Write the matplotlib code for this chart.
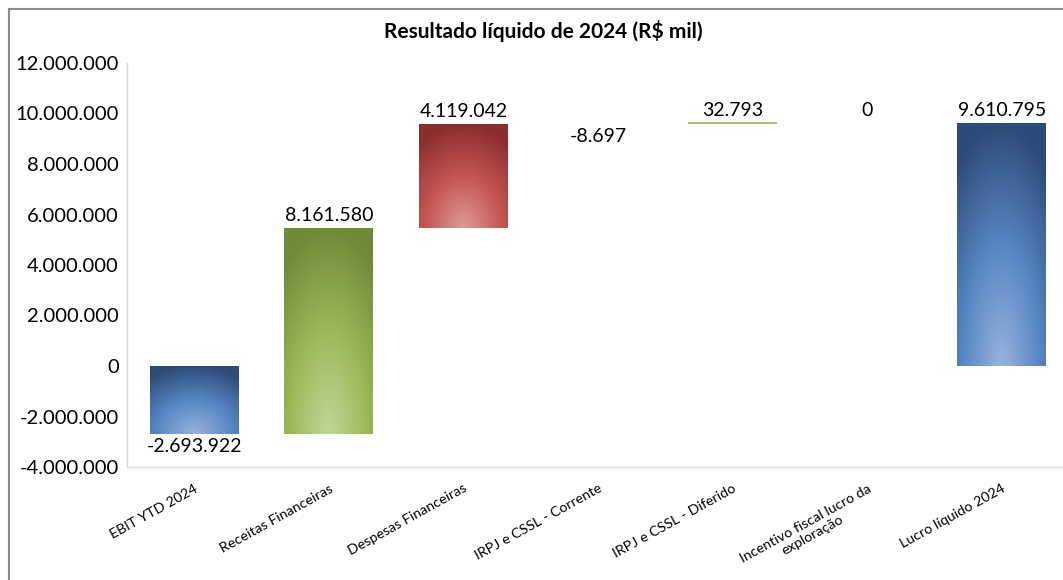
import numpy as np
import matplotlib
matplotlib.use('Agg')
import matplotlib.pyplot as plt
from matplotlib.colors import to_rgb
from matplotlib.lines import Line2D

plt.rcParams['font.family'] = ['Lato', 'DejaVu Sans']

# data
categories = ['EBIT YTD 2024', 'Receitas Financeiras', 'Despesas Financeiras',
              'IRPJ e CSSL - Corrente', 'IRPJ e CSSL - Diferido',
              'Incentivo fiscal lucro da\nexploração', 'Lucro líquido 2024']
values = [-2693922, 8161580, 4119042, -8697, 32793, 0, 9610795]
is_total = [False, False, False, False, False, False, True]
title = 'Resultado líquido de 2024 (R$ mil)'

# colour schemes (light, mid, dark)
blue = ('#98b3dc', '#5786c3', '#2d4b78')
green = ('#c2d699', '#9aba58', '#6f8a38')
red = ('#dd9b99', '#c45552', '#8a2d2d')
schemes = [blue, green, red, red, green, green, blue]


def fmt(v):
    return f'{int(round(v)):,}'.replace(',', '.')


def gradient(scheme, n=150):
    light, mid, dark = [np.array(to_rgb(c)) for c in scheme]
    u = np.linspace(0, 1, n)
    U, V = np.meshgrid(u, u)
    t = np.clip(np.sqrt((U - 0.5) ** 2 * 1.3 + V ** 2), 0, 1)
    img = np.zeros((n, n, 3))
    for k in range(3):
        img[..., k] = np.interp(t, [0, 0.5, 1], [light[k], mid[k], dark[k]])
    return img


# waterfall bottoms
bottoms = []
heights = []
run = 0
for v, tot in zip(values, is_total):
    if tot:
        bottoms.append(0)
        heights.append(v)
    else:
        bottoms.append(run)
        heights.append(v)
        run += v

fig = plt.figure(figsize=(10.63, 5.80), dpi=100)
ax = fig.add_axes([127 / 1063, 113 / 580, 942 / 1063, 404 / 580])
ax.set_xlim(-0.5, 6.5)
ax.set_ylim(-4000000, 12000000)

x = np.arange(len(categories))
width = 0.66
px_per_unit = 404 / 16000000
bars = ax.bar(x, heights, width, bottom=bottoms, color='none', edgecolor='none')

for i, b in enumerate(bars):
    x0 = b.get_x()
    y0 = bottoms[i]
    y1 = bottoms[i] + heights[i]
    lo, hi = min(y0, y1), max(y0, y1)
    hpx = (hi - lo) * px_per_unit
    if hpx < 0.5:
        # below half a pixel: nothing visible
        continue
    if hpx < 3:
        ax.plot([x0, x0 + width], [hi, hi], color='#8db04a', lw=1.1,
                solid_capstyle='butt')
        continue
    im = ax.imshow(gradient(schemes[i]), extent=[x0, x0 + width, lo, hi],
                   origin='lower', aspect='auto', zorder=2, interpolation='bilinear')
    im.set_clip_path(b)

# value labels
for i in range(len(values)):
    top = bottoms[i] + heights[i]
    if values[i] < 0:
        y = min(bottoms[i], top)
        ax.annotate(fmt(values[i]), (x[i], y), xytext=(0, -3), textcoords='offset points',
                    ha='center', va='top', fontsize=14)
    else:
        y = max(bottoms[i], top)
        ax.annotate(fmt(values[i]), (x[i], y), xytext=(0, 3), textcoords='offset points',
                    ha='center', va='bottom', fontsize=14)

ax.set_xlim(-0.5, 6.5)
ax.set_ylim(-4000000, 12000000)
ax.set_yticks(np.arange(-4000000, 12000001, 2000000))
ax.set_yticklabels([fmt(v) for v in ax.get_yticks()], fontsize=14.5)
ax.set_xticks(x)
ax.set_xticklabels(categories, rotation=29, ha='right', rotation_mode='anchor',
                   fontsize=10.3, multialignment='center')
ax.tick_params(axis='both', length=0)
ax.tick_params(axis='x', pad=11)
ax.tick_params(axis='y', pad=6)
for s in ['top', 'right']:
    ax.spines[s].set_visible(False)
for s in ['left', 'bottom']:
    ax.spines[s].set_color('#d9d9d9')
    ax.spines[s].set_linewidth(1)

fig.text(543 / 1063, 1 - 31 / 580, title, ha='center', va='center',
         fontsize=15, fontweight='bold')

# outer chart frame
fig.add_artist(Line2D([9 / 1063, 9 / 1063], [0, 1 - 9 / 580], color='#8c8c8c', lw=1.5))
fig.add_artist(Line2D([9 / 1063, 1], [1 - 9 / 580, 1 - 9 / 580], color='#8c8c8c', lw=1.5))

fig.savefig('out.png', dpi=100)
